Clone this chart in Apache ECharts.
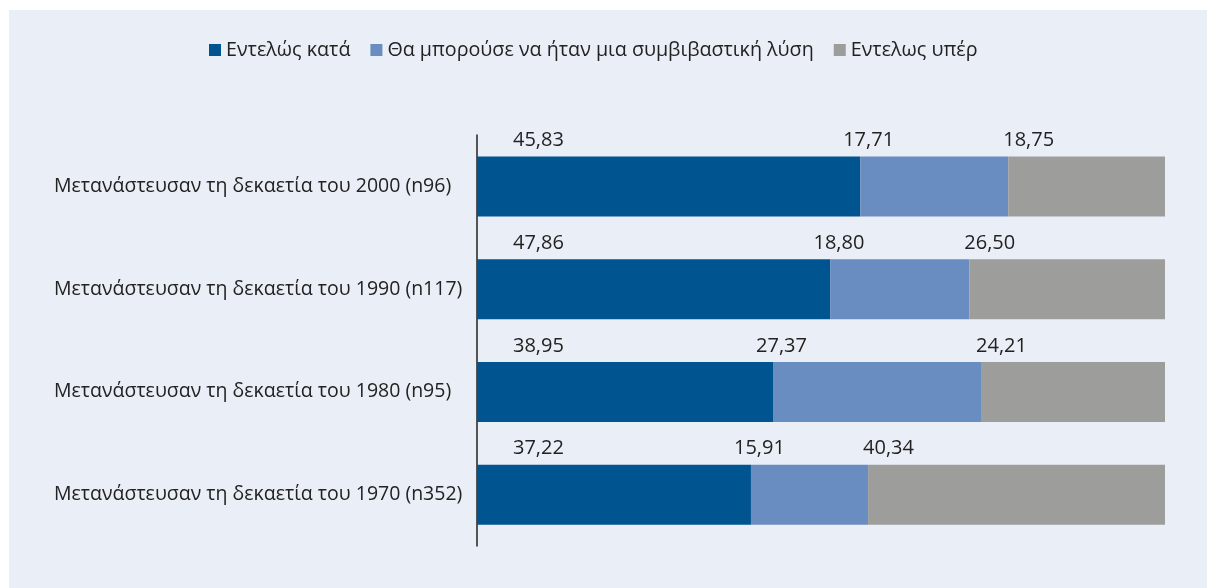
<!DOCTYPE html>
<html>
<head>
<meta charset="utf-8">
<script src="https://cdn.jsdelivr.net/npm/echarts@6/dist/echarts.min.js"></script>
<style>
  html, body { margin: 0; padding: 0; background: #ffffff; }
  #chart { position: absolute; left: 9px; top: 10px; width: 1198px; height: 578px; background: #EAEEF6; }
</style>
</head>
<body>
<div id="chart"></div>
<script>
// Categories, top to bottom
const categories = [
  'Μετανάστευσαν τη δεκαετία του 2000 (n96)',
  'Μετανάστευσαν τη δεκαετία του 1990 (n117)',
  'Μετανάστευσαν τη δεκαετία του 1980 (n95)',
  'Μετανάστευσαν τη δεκαετία του 1970 (n352)'
];
const seriesNames = ['Εντελώς κατά', 'Θα μπορούσε να ήταν μια συμβιβαστική λύση', 'Εντελως υπέρ'];
const against = [45.83, 47.86, 38.95, 37.22];
const compromise = [17.71, 18.80, 27.37, 15.91];
const inFavour = [18.75, 26.50, 24.21, 40.34];

const colors = ['#00548F', '#6A8DC1', '#9D9D9B'];
const labelPos = [[36, -16], [-17, -16], [-5, -16]];
const raw = [against, compromise, inFavour];
const totals = categories.map((_, i) => raw.reduce((s, arr) => s + arr[i], 0));

const fontFamily = '"Open Sans", "Noto Sans", sans-serif';
const chart = echarts.init(document.getElementById('chart'));
chart.setOption({
  backgroundColor: '#EAEEF6',
  animation: false,
  textStyle: { fontFamily: fontFamily },
  legend: {
    top: 25,
    left: 195,
    itemWidth: 12,
    itemHeight: 12,
    itemGap: 20,
    icon: 'rect',
    textStyle: { fontSize: 19.7, color: '#222', fontFamily: fontFamily },
    data: seriesNames
  },
  grid: { left: 468, right: 42, top: 125, bottom: 42 },
  xAxis: {
    type: 'value', min: 0, max: 100,
    show: false
  },
  yAxis: {
    type: 'category',
    inverse: true,
    data: categories,
    axisLine: { show: true, lineStyle: { color: '#222', width: 1.5 } },
    axisTick: { show: false },
    axisLabel: { fontSize: 19.5, color: '#222', margin: 423, align: 'left', fontFamily: fontFamily }
  },
  series: raw.map((vals, si) => ({
    name: seriesNames[si],
    type: 'bar',
    stack: 'total',
    barWidth: 60,
    itemStyle: { color: colors[si] },
    label: {
      show: true,
      position: labelPos[si],
      align: 'left',
      verticalAlign: 'middle',
      fontSize: 20,
      color: '#222',
      fontFamily: fontFamily,
      formatter: p => vals[p.dataIndex].toFixed(2).replace('.', ',')
    },
    // each row is shown as shares of its own total
    data: vals.map((v, i) => v / totals[i] * 100)
  }))
});
</script>
</body>
</html>
